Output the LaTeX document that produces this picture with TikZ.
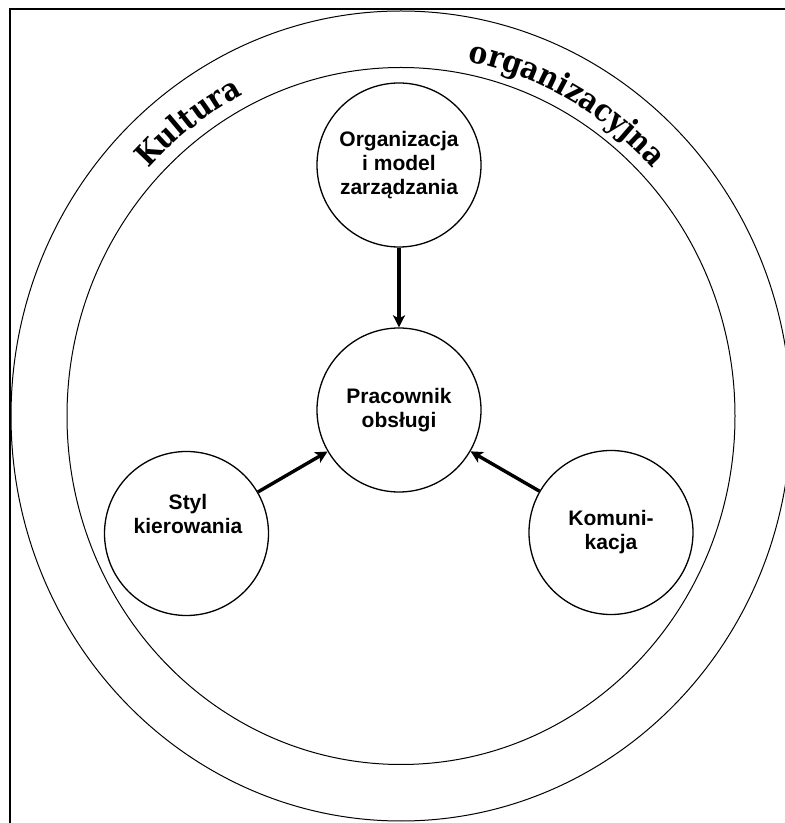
\documentclass[tikz,border=0pt]{standalone}
\usepackage{fontspec}
\setmainfont{Liberation Sans}
\newfontfamily\arcfont{DejaVu Serif Condensed}
\usetikzlibrary{arrows.meta,decorations.text}
\begin{document}
\begin{tikzpicture}[x=1pt,y=1pt,
  bigring/.style={line width=1pt},
  topic/.style={circle, draw, line width=1.3pt, minimum size=164pt, inner sep=0pt},
  lbl/.style={font=\bfseries\fontsize{21}{24}\selectfont, align=center},
  arr/.style={line width=3.4pt, -{Stealth[length=12pt,width=12pt,inset=3pt]}},
  arctext/.style={decorate, decoration={text along path, text align=center,
     text={|\arcfont\bfseries\fontsize{31}{33}\selectfont|#1}}}
]
\useasboundingbox (0,0) rectangle (785,823);
\clip (0,0) rectangle (785,823);
\draw[line width=2pt] (10,814) rectangle (900,-50);
\coordinate (C) at (401,407);
\draw[bigring] (C) ellipse [x radius=390, y radius=405];
\draw[bigring] (C) ellipse [x radius=334, y radius=348.5];
\path[arctext=Kultura] (C) ++(156.8:346 and 361.5)
  arc[start angle=156.8, end angle=96.8, x radius=346, y radius=361.5];
\path[arctext=organizacyjna] (C) ++(101.4:346 and 361.5)
  arc[start angle=101.4, end angle=21.4, x radius=346, y radius=361.5];
\node[topic,lbl] (org) at (399,658) {Organizacja\\i model\\zarządzania};
\node[topic,lbl] (prac) at (399,413) {Pracownik\\obsługi};
\node[topic] (styl) at (186.5,289.5) {};
\node[lbl] (stylt) at (188,309.5) {Styl\\kierowania};
\node[topic,lbl] (kom) at (611,290.5) {Komuni-\\kacja};
\draw[arr] (org) -- (prac);
\draw[arr] (styl) -- (prac);
\draw[arr] (kom) -- (prac);
\end{tikzpicture}
\end{document}
